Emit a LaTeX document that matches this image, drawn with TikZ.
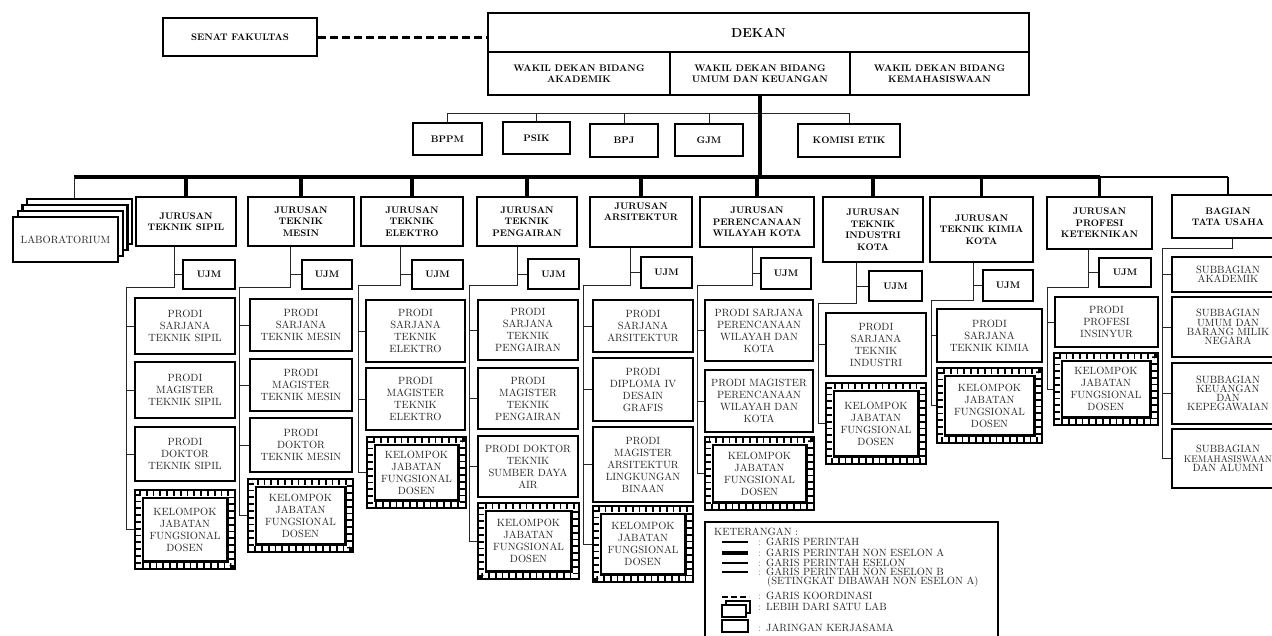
\documentclass[tikz,border=0pt]{standalone}
\newcommand\mybox[7]{\node[#6, minimum width={(#4)-(#2)}, minimum height={(#5)-(#3)}] (#1) at ({((#2)+(#4))/2},{((#3)+(#5))/2}) {#7};}
\newcommand\mykjf[5]{%
  \mybox{#1}{#2}{#3}{#4}{#5}{kjfbox}{KELOMPOK\\JABATAN\\FUNGSIONAL\\DOSEN}
  \draw[ladder] ([shift={(5,5)}]#1.north west) rectangle ([shift={(-5,-5)}]#1.south east);
  \draw[line width=2.4pt] ([shift={(9,9)}]#1.north west) rectangle ([shift={(-9,-9)}]#1.south east);
}
\tikzset{
  base/.style={draw, fill=white, align=center, inner sep=1pt, line width=2.6pt},
  hdr/.style={base, font=\fontsize{9.5}{11.5}\selectfont\bfseries},
  prodi/.style={base, font=\fontsize{10.5}{12}\selectfont, text=black!85},
  sub/.style={prodi, font=\fontsize{10.5}{9.2}\selectfont},
  kjfbox/.style={prodi},
  labbox/.style={base},
  ladder/.style={line width=5pt, dash pattern=on 1.8pt off 5pt},
  conn/.style={line width=0.9pt, black!85},
  cmdA/.style={line width=3.2pt},
  cmdB/.style={line width=2pt},
  coordl/.style={line width=3pt, dash pattern=on 8pt off 4pt},
  legtxt/.style={anchor=west, inner sep=0pt, font=\fontsize{10.5}{10}\selectfont, text=black!85},
}
\begin{document}
\begin{tikzpicture}[x=1pt,y=-1pt]
\useasboundingbox (0,0) rectangle (1272,635);
\fill[white] (0,0) rectangle (1272,635);

% ---------- top ----------
\mybox{senat}{163}{18}{317}{56}{hdr}{SENAT FAKULTAS}
\mybox{dekan}{488}{13}{1029}{52}{hdr,font=\fontsize{13}{15}\selectfont\bfseries}{DEKAN}
\mybox{wdA}{488}{52}{670}{95}{hdr}{WAKIL DEKAN BIDANG\\AKADEMIK}
\mybox{wdU}{670}{52}{850}{95}{hdr}{WAKIL DEKAN BIDANG\\UMUM DAN KEUANGAN}
\mybox{wdK}{850}{52}{1029}{95}{hdr}{WAKIL DEKAN BIDANG\\KEMAHASISWAAN}
\draw[coordl] (senat.east) -- (senat.east -| dekan.west);

\mybox{bppm}{413}{123}{482}{155}{hdr}{BPPM}
\mybox{psik}{503}{122}{570}{154}{hdr}{PSIK}
\mybox{bpj}{590}{124}{658}{157}{hdr}{BPJ}
\mybox{gjm}{675}{124}{743}{156}{hdr}{GJM}
\mybox{komisi}{798}{124}{900}{157}{hdr}{KOMISI ETIK}
\coordinate (bline) at (0,113);
\draw[conn] (bppm.north) |- (komisi.north |- bline) -- (komisi.north);
\foreach \nn in {psik,bpj,gjm} \draw[conn] (\nn.north) -- (\nn.north |- bline);

\coordinate (barL) at (74,177);
\coordinate (barM) at (1100,177);
\coordinate (barR) at (1228,177);
\draw[cmdA] (wdU.south) -- (wdU.south |- barL);
\draw[cmdA] (barL) -- (barM);
\draw[cmdB] (barM) -- (barR);

% ---------- laboratorium ----------
\mybox{labC}{27}{199}{132}{244}{labbox}{}
\mybox{labB}{22.5}{205}{127.5}{250}{labbox}{}
\mybox{labA}{18}{211}{123}{256}{labbox}{}
\mybox{lab}{13}{217}{118}{262}{prodi}{LABORATORIUM}
\draw[conn] (barL) -- (barL |- labC.north);

% ---------- jurusan ----------
\mybox{jS}{136}{197}{236}{246}{hdr}{JURUSAN\\TEKNIK SIPIL}
\mybox{uS}{183}{260}{235}{289}{hdr}{UJM}
\mybox{pS1}{135}{298}{235}{354}{prodi}{PRODI\\SARJANA\\TEKNIK SIPIL}
\mybox{pS2}{135}{362}{235}{418}{prodi}{PRODI\\MAGISTER\\TEKNIK SIPIL}
\mybox{pS3}{135}{427}{235}{481}{prodi}{PRODI\\DOKTOR\\TEKNIK SIPIL}
\mykjf{kS}{135}{490}{235}{569}

\mybox{jM}{248}{197}{354}{246}{hdr}{JURUSAN\\TEKNIK\\MESIN}
\mybox{uM}{302}{260}{352}{289}{hdr}{UJM}
\mybox{pM1}{250}{299}{352}{351}{prodi}{PRODI\\SARJANA\\TEKNIK MESIN}
\mybox{pM2}{250}{359}{352}{411}{prodi}{PRODI\\MAGISTER\\TEKNIK MESIN}
\mybox{pM3}{250}{418}{352}{472}{prodi}{PRODI\\DOKTOR\\TEKNIK MESIN}
\mykjf{kM}{248}{479}{353}{552}

\mybox{jE}{361}{197}{463}{246}{hdr}{JURUSAN\\TEKNIK\\ELEKTRO}
\mybox{uE}{412}{260}{463}{289}{hdr}{UJM}
\mybox{pE1}{366}{300}{465}{362}{prodi}{PRODI\\SARJANA\\TEKNIK\\ELEKTRO}
\mybox{pE2}{366}{368}{465}{430}{prodi}{PRODI\\MAGISTER\\TEKNIK\\ELEKTRO}
\mykjf{kE}{367}{437}{466}{508}

\mybox{jP}{477}{197}{577}{246}{hdr}{JURUSAN\\TEKNIK\\PENGAIRAN}
\mybox{uP}{528}{259}{579}{289}{hdr}{UJM}
\mybox{pP1}{478}{300}{578}{360}{prodi}{PRODI\\SARJANA\\TEKNIK\\PENGAIRAN}
\mybox{pP2}{478}{368}{578}{429}{prodi}{PRODI\\MAGISTER\\TEKNIK\\PENGAIRAN}
\mybox{pP3}{478}{436}{578}{497}{prodi}{PRODI DOKTOR\\TEKNIK\\SUMBER DAYA\\AIR}
\mykjf{kP}{478}{503}{579}{579}

\mybox{jA}{590}{197}{692}{247}{hdr}{JURUSAN\\ARSITEKTUR\\[9pt]}
\mybox{uA}{641}{257}{692}{288}{hdr}{UJM}
\mybox{pA1}{593}{300}{693}{352}{prodi}{PRODI\\SARJANA\\ARSITEKTUR}
\mybox{pA2}{593}{358}{693}{421}{prodi}{PRODI\\DIPLOMA IV\\DESAIN\\GRAFIS}
\mybox{pA3}{593}{427}{693}{502}{prodi}{PRODI\\MAGISTER\\ARSITEKTUR\\LINGKUNGAN\\BINAAN}
\mykjf{kA}{593}{506}{693}{582}

\mybox{jW}{700}{197}{814}{247}{hdr}{JURUSAN\\PERENCANAAN\\WILAYAH KOTA}
\mybox{uW}{761}{258}{811}{289}{hdr}{UJM}
\mybox{pW1}{705}{300}{813}{361}{prodi}{PRODI SARJANA\\PERENCANAAN\\WILAYAH DAN\\KOTA}
\mybox{pW2}{705}{370}{813}{432}{prodi}{PRODI MAGISTER\\PERENCANAAN\\WILAYAH DAN\\KOTA}
\mykjf{kW}{705}{437}{814}{510}

\mybox{jI}{823}{197}{923}{262}{hdr}{JURUSAN\\TEKNIK\\INDUSTRI\\KOTA}
\mybox{uI}{869}{271}{922}{301}{hdr}{UJM}
\mybox{pI1}{826}{313}{926}{376}{prodi}{PRODI\\SARJANA\\TEKNIK\\INDUSTRI}
\mykjf{kI}{826}{383}{926}{464}

\mybox{jK}{930}{197}{1033}{262}{hdr}{JURUSAN\\TEKNIK KIMIA\\KOTA}
\mybox{uK}{983}{270}{1033}{301}{hdr}{UJM}
\mybox{pK1}{937}{309}{1042}{362}{prodi}{PRODI\\SARJANA\\TEKNIK KIMIA}
\mykjf{kK}{937}{368}{1042}{443}

\mybox{jF}{1047}{197}{1152}{249}{hdr}{JURUSAN\\PROFESI\\KETEKNIKAN}
\mybox{uF}{1099}{258}{1151}{287}{hdr}{UJM}
\mybox{pF1}{1055}{297}{1158}{347}{prodi}{PRODI\\PROFESI\\INSINYUR}
\mykjf{kF}{1054}{353}{1158}{425}

\mybox{jT}{1172}{195}{1284}{238}{hdr}{BAGIAN\\TATA USAHA}
\mybox{sT1}{1172}{257}{1284}{292}{sub}{SUBBAGIAN\\AKADEMIK}
\mybox{sT2}{1172}{297}{1284}{357}{sub}{SUBBAGIAN\\UMUM DAN\\BARANG MILIK\\NEGARA}
\mybox{sT3}{1172}{363}{1284}{424}{sub}{SUBBAGIAN\\KEUANGAN\\DAN\\KEPEGAWAIAN}
\mybox{sT4}{1172}{429}{1284}{488}{sub}{SUBBAGIAN\\{\fontsize{9.5}{9.2}\selectfont KEMAHASISWAAN}\hspace*{11pt}\\DAN ALUMNI}

% drops from the main bar
\foreach \nn in {jS,jM,jE,jP,jA,jW,jI,jK,jF} \draw[cmdA] (\nn.north |- barL) -- (\nn.north);
\draw[cmdB] (jT.north |- barR) -- (jT.north);

% ---------- column wiring ----------
\coordinate (vS) at ([xshift=-12pt]jS.south); \coordinate (cS) at (126,287);
\draw[conn] (vS) |- (cS) -- (cS |- kS.west);
\draw[conn] (uS.west) -- (uS.west -| vS);
\foreach \nn in {pS1,pS2,pS3,kS} \draw[conn] (\nn.west) -- (\nn.west -| cS);

\coordinate (vM) at ([xshift=-11pt]jM.south); \coordinate (cM) at (239,287);
\draw[conn] (vM) |- (cM) -- (cM |- kM.west);
\draw[conn] (uM.west) -- (uM.west -| vM);
\foreach \nn in {pM1,pM2,pM3,kM} \draw[conn] (\nn.west) -- (\nn.west -| cM);

\coordinate (vE) at ([xshift=-12pt]jE.south); \coordinate (cE) at (358,285);
\draw[conn] (vE) |- (cE) -- (cE |- kE.west);
\draw[conn] (uE.west) -- (uE.west -| vE);
\foreach \nn in {pE1,pE2,kE} \draw[conn] (\nn.west) -- (\nn.west -| cE);

\coordinate (vP) at ([xshift=-10pt]jP.south); \coordinate (cP) at (469,285);
\draw[conn] (vP) |- (cP) -- (cP |- kP.west);
\draw[conn] (uP.west) -- (uP.west -| vP);
\foreach \nn in {pP1,pP2,pP3,kP} \draw[conn] (\nn.west) -- (\nn.west -| cP);

\coordinate (vA) at ([xshift=-11pt]jA.south); \coordinate (cA) at (583,285);
\draw[conn] (vA) |- (cA) -- (cA |- kA.west);
\draw[conn] (uA.west) -- (uA.west -| vA);
\foreach \nn in {pA1,pA2,pA3,kA} \draw[conn] (\nn.west) -- (\nn.west -| cA);

\coordinate (vW) at ([xshift=-5pt]jW.south); \coordinate (cW) at (697,285);
\draw[conn] (vW) |- (cW) -- (cW |- kW.west);
\draw[conn] (uW.west) -- (uW.west -| vW);
\foreach \nn in {pW1,pW2,kW} \draw[conn] (\nn.west) -- (\nn.west -| cW);

\coordinate (vI) at ([xshift=-17pt]jI.south); \coordinate (cI) at (818,303);
\draw[conn] (vI) |- (cI) -- (cI |- kI.west);
\draw[conn] (uI.west) -- (uI.west -| vI);
\foreach \nn in {pI1,kI} \draw[conn] (\nn.west) -- (\nn.west -| cI);

\coordinate (vK) at ([xshift=-8.5pt]jK.south); \coordinate (cK) at (931,300);
\draw[conn] (vK) |- (cK) -- (cK |- kK.west);
\draw[conn] (uK.west) -- (uK.west -| vK);
\foreach \nn in {pK1,kK} \draw[conn] (\nn.west) -- (\nn.west -| cK);

\coordinate (vF) at ([xshift=-11.5pt]jF.south); \coordinate (cF) at (1047,287);
\draw[conn] (vF) |- (cF) -- (cF |- kF.west);
\draw[conn] (uF.west) -- (uF.west -| vF);
\foreach \nn in {pF1,kF} \draw[conn] (\nn.west) -- (\nn.west -| cF);

\coordinate (vT) at ([xshift=4pt]jT.south); \coordinate (cT) at (1162,248);
\draw[conn] (vT) |- (cT) -- (cT |- sT4.west);
\foreach \nn in {sT1,sT2,sT3,sT4} \draw[conn] (\nn.west) -- (\nn.west -| cT);

% ---------- legend ----------
\mybox{leg}{705}{522}{998}{652}{draw, line width=1.3pt, fill=white}{}
\node[legtxt] (lg0) at (714,532) {KETERANGAN :};
\draw[line width=1.2pt] (722,542) -- (748,542);
\node[legtxt] (lg1) at (758,542) {{\color{black!45}:}\hspace{5pt}GARIS PERINTAH};
\draw[line width=3.6pt] (722,553) -- (748,553);
\node[legtxt] (lg2) at (758,553) {{\color{black!45}:}\hspace{5pt}GARIS PERINTAH NON ESELON A};
\draw[line width=2.6pt] (722,563) -- (748,563);
\node[legtxt] (lg3) at (758,563) {{\color{black!45}:}\hspace{5pt}GARIS PERINTAH ESELON};
\draw[line width=1.4pt] (722,572) -- (748,572);
\node[legtxt] (lg4) at (758,572) {{\color{black!45}:}\hspace{5pt}GARIS PERINTAH NON ESELON B};
\node[legtxt] (lg5) at (767,582) {(SETINGKAT DIBAWAH NON ESELON A)};
\draw[line width=2.6pt, dash pattern=on 6pt off 3pt] (722,597) -- (749,597);
\node[legtxt] (lg6) at (758,596) {{\color{black!45}:}\hspace{5pt}GARIS KOORDINASI};
\draw[line width=1.8pt, fill=white] (726,601) rectangle (750,613);
\draw[line width=1.8pt, fill=white] (722,605) rectangle (746,617);
\node[legtxt] (lg7) at (758,607) {{\color{black!45}:}\hspace{5pt}LEBIH DARI SATU LAB};
\draw[line width=2.6pt] (722,620) rectangle (748,632);
\node[legtxt] (lg8) at (758,628) {{\color{black!45}:}\hspace{5pt}JARINGAN KERJASAMA};
\end{tikzpicture}
\end{document}
